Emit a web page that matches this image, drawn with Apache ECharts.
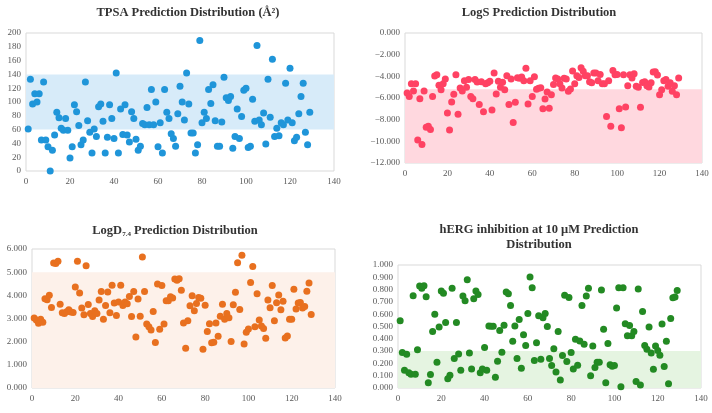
<!DOCTYPE html>
<html>
<head>
<meta charset="utf-8">
<script src="https://cdn.jsdelivr.net/npm/echarts@6/dist/echarts.min.js"></script>
<style>html,body{margin:0;padding:0;background:#fff}#c{width:712px;height:413px}</style>
</head>
<body>
<div id="c"></div>
<script>
// ---- data (sample index = position + 1) ----
const tpsa = [61,133,97,112,100,112,45,129,45,35,0,30,52,85,77,62,59,76,59,19,35,96,86,66,38,45,129,73,56,26,61,50,93,97,72,26,49,96,76,47,142,26,90,53,96,52,42,86,76,46,30,36,69,67,92,67,118,67,100,35,70,26,118,85,76,54,47,36,83,123,100,74,142,97,55,55,26,38,189,70,85,76,118,98,125,73,36,36,71,136,106,102,108,33,50,90,47,79,117,120,34,36,104,72,182,74,67,84,39,133,78,162,50,62,51,70,67,127,74,149,70,44,49,83,108,127,56,38,85];
const logs = [-5.54,-5.85,-4.68,-5.35,-4.68,-9.88,-6.06,-10.3,-5.35,-8.7,-8.6,-8.9,-5.85,-3.97,-3.85,-4.83,-5.23,-4.68,-4.25,-7.38,-8.95,-6.37,-5.66,-3.85,-7.5,-5.08,-5.35,-4.4,-5.0,-4.3,-5.85,-6.06,-4.3,-4.52,-6.6,-4.5,-7.26,-4.68,-4.6,-4.46,-7.1,-3.7,-5.63,-4.46,-5.0,-4.55,-5.23,-3.94,-6.6,-4.25,-8.25,-6.4,-4.12,-4.18,-4.06,-4.4,-3.26,-6.55,-4.4,-5.85,-4.03,-5.2,-5.1,-5.05,-7.0,-6.1,-5.45,-6.95,-5.7,-4.75,-4.15,-4.25,-4.68,-5.08,-4.18,-4.25,-5.38,-5.17,-3.5,-4.68,-3.94,-4.1,-3.2,-3.54,-3.94,-3.94,-4.5,-4.6,-3.7,-3.7,-4.4,-3.82,-4.68,-4.68,-7.7,-4.4,-8.6,-3.45,-3.85,-3.82,-7.0,-8.75,-3.85,-6.83,-4.86,-3.85,-4.15,-3.75,-4.92,-5.0,-6.86,-4.58,-4.5,-4.86,-4.98,-4.6,-3.6,-3.57,-3.88,-5.7,-5.23,-4.4,-4.3,-4.92,-4.6,-5.38,-4.86,-5.7,-4.15];
const logd = [3.02,2.94,2.8,2.97,2.84,3.85,3.81,4.0,3.48,5.4,5.37,5.47,3.62,3.25,3.22,3.29,3.38,3.28,3.26,4.36,5.47,4.1,3.45,3.16,5.28,3.6,3.22,3.09,3.33,3.22,3.8,4.17,2.97,3.56,4.14,3.25,4.43,3.67,3.13,3.71,4.43,3.56,3.71,3.64,3.95,3.09,4.17,2.2,3.84,3.1,5.66,4.17,2.76,2.64,2.5,3.3,1.96,4.49,2.54,4.42,2.76,3.77,3.77,3.94,3.88,4.7,4.65,4.72,4.22,2.81,1.72,2.9,3.55,3.98,3.33,3.65,3.91,3.87,1.67,3.57,2.44,2.77,1.95,1.98,2.81,2.23,3.1,3.62,2.97,3.22,3.03,2.01,3.59,4.13,5.41,3.39,5.73,1.9,2.41,2.55,4.55,5.25,2.64,4.07,2.93,2.68,2.57,2.15,3.8,3.46,4.42,2.9,3.68,4.01,3.38,3.75,2.16,2.24,2.97,2.97,4.26,3.41,3.67,3.69,3.45,3.52,4.18,4.53,3.17];
const herg = [0.546,0.288,0.144,0.274,0.125,0.111,0.75,0.111,0.31,0.829,0.81,0.832,0.742,0.043,0.109,0.46,0.6,0.21,0.495,0.788,0.77,0.533,0.076,0.103,0.81,0.24,0.533,0.277,0.144,0.747,0.709,0.88,0.285,0.155,0.726,0.788,0.76,0.125,0.155,0.33,0.144,0.505,0.503,0.503,0.087,0.217,0.467,0.29,0.51,0.78,0.766,0.671,0.38,0.505,0.24,0.557,0.16,0.432,0.345,0.606,0.902,0.815,0.223,0.367,0.587,0.234,0.571,0.606,0.5,0.24,0.182,0.32,0.13,0.46,0.065,0.264,0.755,0.215,0.736,0.288,0.155,0.397,0.185,0.383,0.671,0.356,0.747,0.81,0.1,0.342,0.166,0.21,0.21,0.796,0.478,0.043,0.361,0.19,0.177,0.182,0.65,0.815,0.011,0.815,0.522,0.424,0.508,0.424,0.46,0.052,0.804,0.024,0.622,0.345,0.315,0.495,0.285,0.152,0.342,0.304,0.266,0.52,0.174,0.38,0.035,0.565,0.734,0.74,0.793];

// acceptable-range bands
const bandTPSA = [60, 140];
const bandLogS = [-12, -5.2];
const bandLogD = [0, 5];
const bandHERG = [0, 0.3];

// axis ranges [min, max, interval]
const xRange = [0, 140, 20];
const yTPSA = [0, 200, 20];
const yLogS = [-12, 0, 2];
const yLogD = [0, 6, 1];
const yHERG = [0, 1, 0.1];

const titles = ['TPSA Prediction Distribution (Å²)', 'LogS Prediction Distribution', 'LogD7.4 Prediction Distribution', 'hERG inhibition at 10 μM Prediction\nDistribution'];

// ---- chart ----
const FONT = '"Liberation Serif", "Times New Roman", serif';
const LABEL = {color: '#595959', fontSize: 9, fontFamily: FONT};
const pts = arr => arr.map((v, i) => [i + 1, v]);

const grids = [
  {left: 26, top: 33, width: 308, height: 138},
  {left: 405, top: 33, width: 297, height: 130},
  {left: 32, top: 249, width: 303, height: 139},
  {left: 398, top: 265, width: 303, height: 123}
];
const yDefs = [
  {r: yTPSA, fmt: v => String(Math.round(v))},
  {r: yLogS, fmt: v => v.toFixed(3).replace('-', '\u2212')},
  {r: yLogD, fmt: v => v.toFixed(3)},
  {r: yHERG, fmt: v => v.toFixed(3)}
];
const series = [
  {d: tpsa, band: bandTPSA, c: '#1f95d9', bc: '#d7ebf9'},
  {d: logs, band: bandLogS, c: '#ff4263', bc: '#ffd8df'},
  {d: logd, band: bandLogD, c: '#e8701f', bc: '#fdf1ea'},
  {d: herg, band: bandHERG, c: '#238a23', bc: '#e5f4e1'}
];

const option = {
  animation: false,
  backgroundColor: '#fff',
  grid: grids.map(g => Object.assign({show: true, borderColor: '#d9d9d9', borderWidth: 1, backgroundColor: 'transparent'}, g)),
  xAxis: grids.map((g, i) => ({
    type: 'value', gridIndex: i, min: xRange[0], max: xRange[1], interval: xRange[2],
    axisLine: {show: false, onZero: false}, axisTick: {show: false}, splitLine: {show: false},
    axisLabel: Object.assign({margin: 6}, LABEL)
  })),
  yAxis: yDefs.map((y, i) => ({
    type: 'value', gridIndex: i, min: y.r[0], max: y.r[1], interval: y.r[2],
    axisLine: {show: false, onZero: false}, axisTick: {show: false}, splitLine: {show: false},
    axisLabel: Object.assign({margin: 5, formatter: y.fmt}, LABEL)
  })),
  series: series.map((s, i) => ({
    type: 'scatter', xAxisIndex: i, yAxisIndex: i, data: pts(s.d),
    symbolSize: 7, itemStyle: {color: s.c, opacity: 1},
    markArea: {silent: true, itemStyle: {color: s.bc}, data: [[{yAxis: s.band[0]}, {yAxis: s.band[1]}]]}
  })),
  graphic: [
    {type: 'text', x: 188, y: 13, style: {text: titles[0], textAlign: 'center', textVerticalAlign: 'middle', font: 'bold 12.5px ' + FONT, fill: '#333'}},
    {type: 'text', x: 539, y: 13, style: {text: titles[1], textAlign: 'center', textVerticalAlign: 'middle', font: 'bold 12.5px ' + FONT, fill: '#333'}},
    {type: 'text', x: 175, y: 230, style: {
      text: '{a|LogD}{s|7.4}{a| Prediction Distribution}', textAlign: 'center', textVerticalAlign: 'middle',
      rich: {
        a: {fontSize: 12.5, fontWeight: 'bold', fontFamily: FONT, fill: '#333', color: '#333', lineHeight: 15, verticalAlign: 'bottom'},
        s: {fontSize: 7, fontWeight: 'bold', fontFamily: FONT, fill: '#333', color: '#333', lineHeight: 13, verticalAlign: 'bottom'}
      }
    }},
    {type: 'text', x: 539, y: 237, style: {text: titles[3], textAlign: 'center', textVerticalAlign: 'middle', font: 'bold 12.5px ' + FONT, fill: '#333', lineHeight: 15}}
  ]
};
echarts.init(document.getElementById('c'), null, {renderer: 'canvas'}).setOption(option);
</script>
</body>
</html>
